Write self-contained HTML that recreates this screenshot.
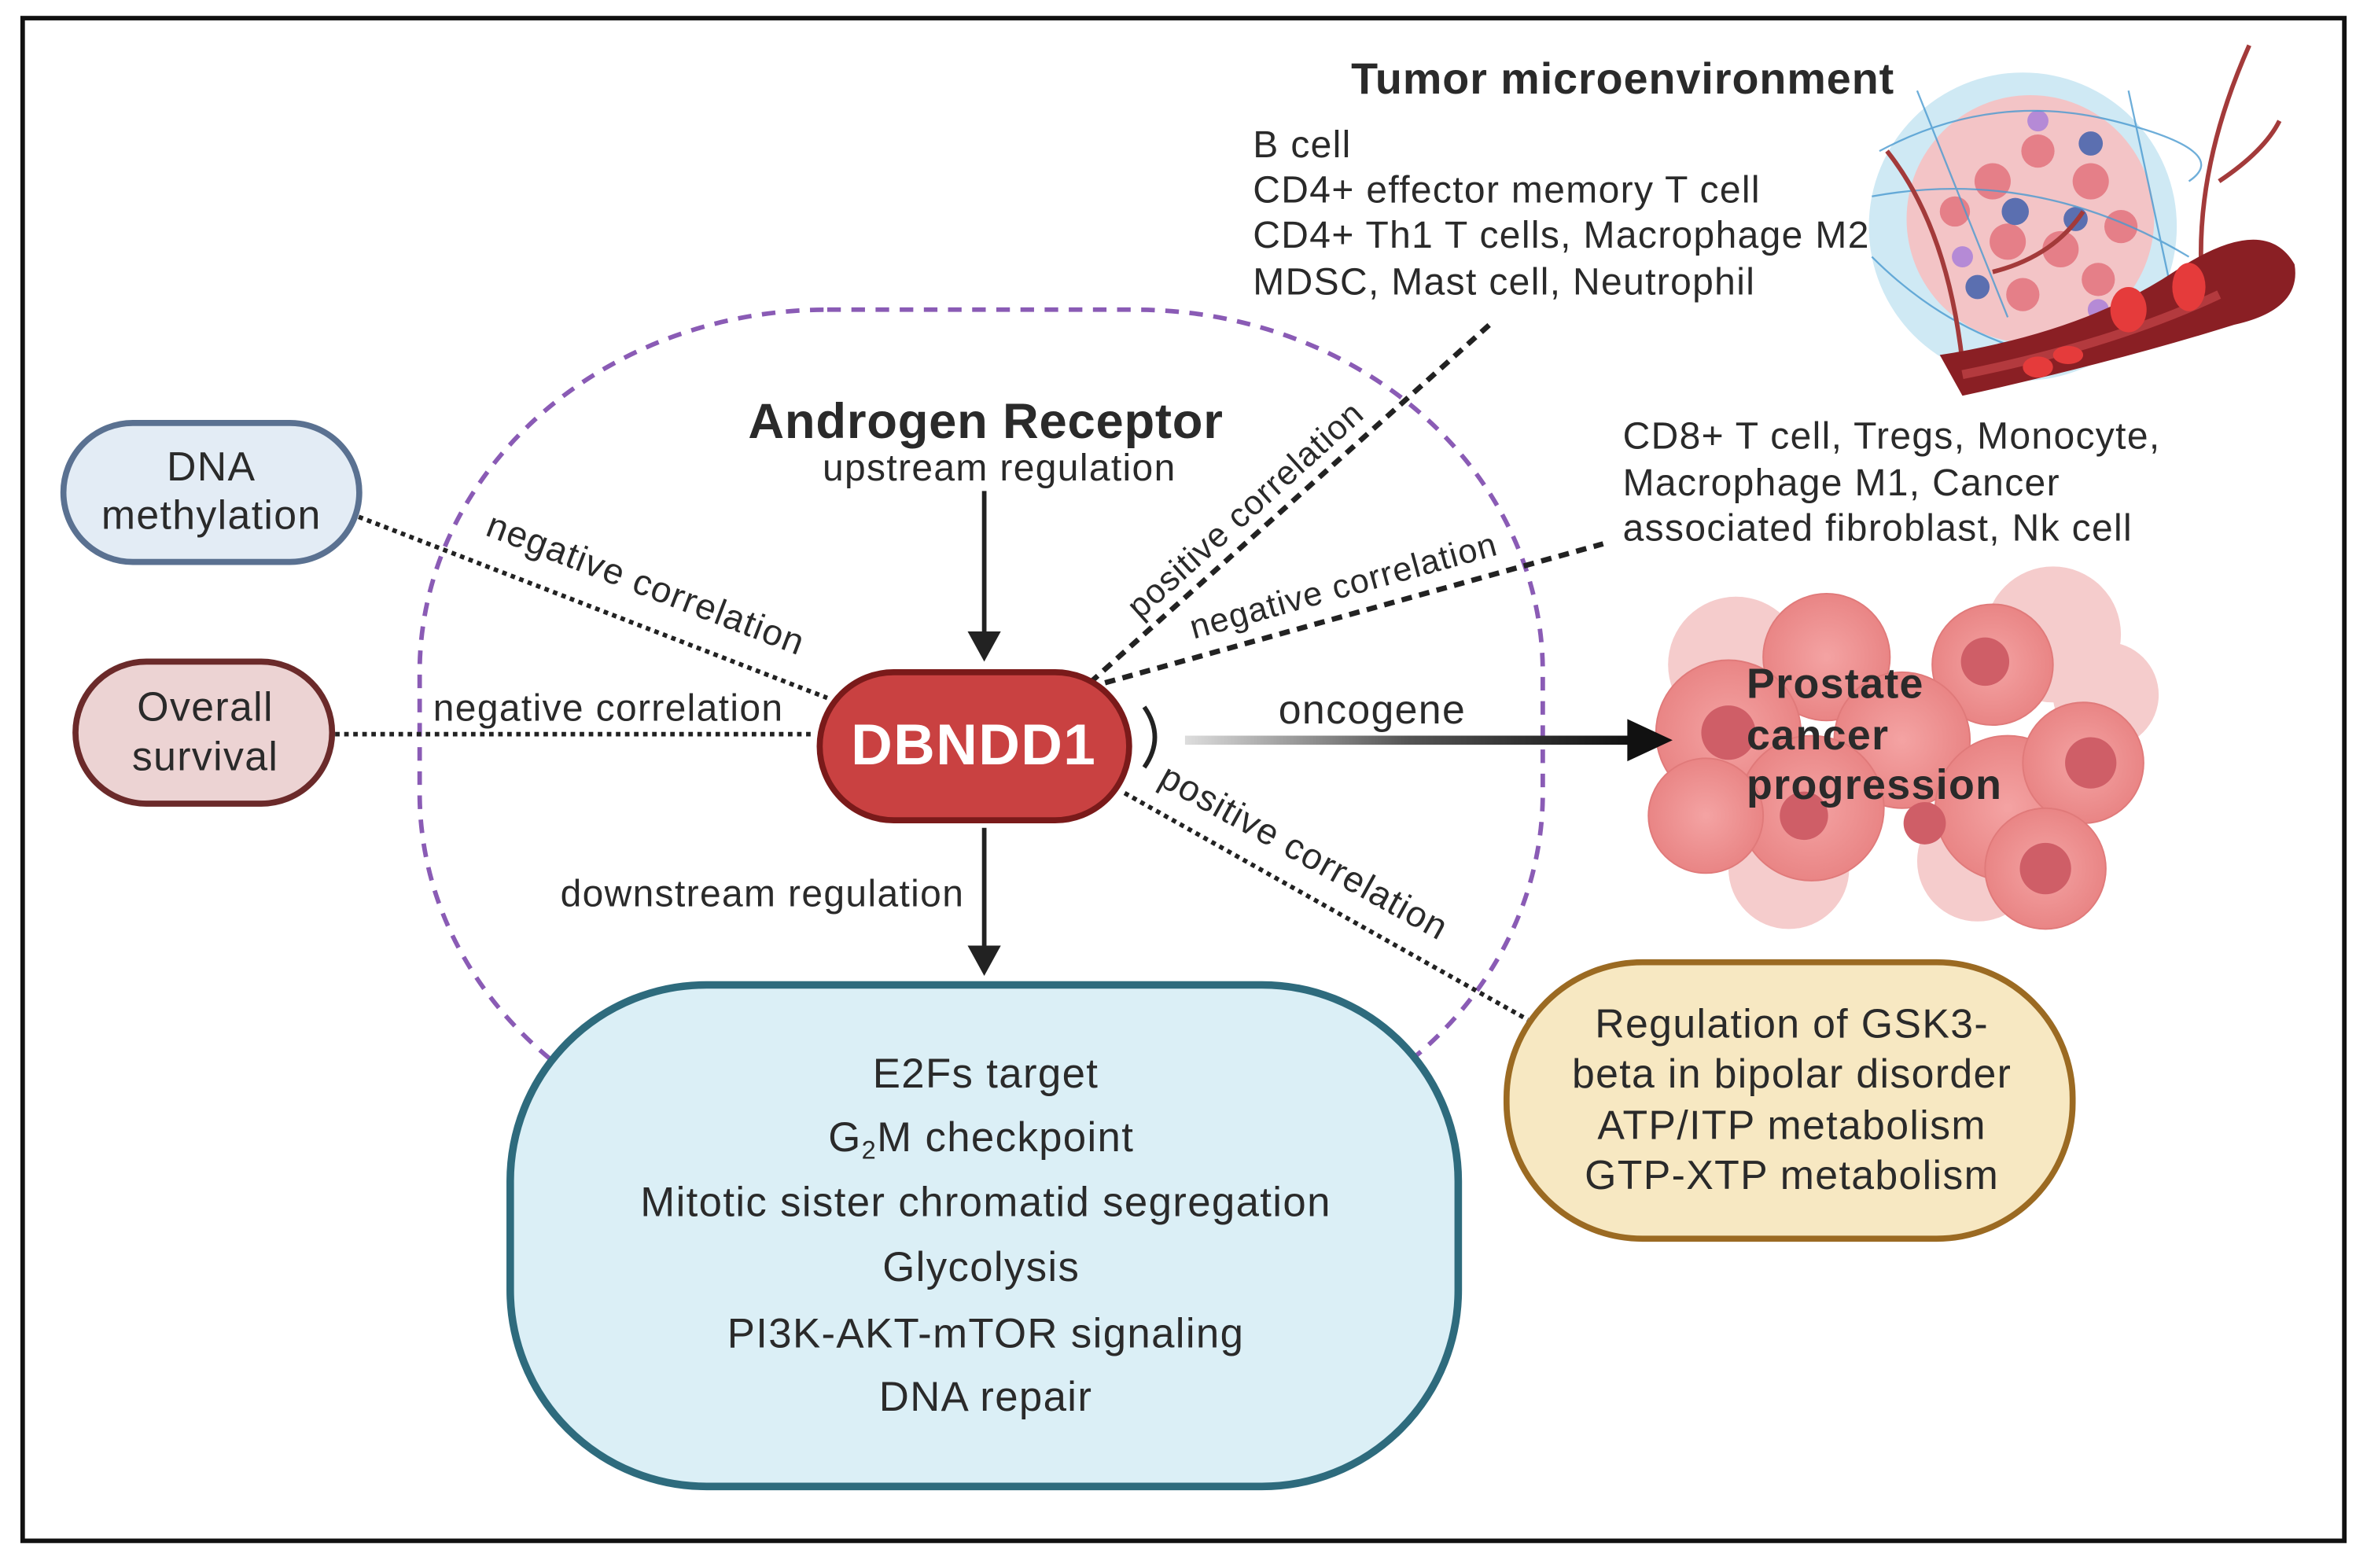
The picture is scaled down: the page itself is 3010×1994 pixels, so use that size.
<!DOCTYPE html>
<html><head><meta charset="utf-8"><style>
html,body{margin:0;padding:0;background:#fff}
svg{display:block}
text{font-family:"Liberation Sans",sans-serif;fill:#2a2a2a;letter-spacing:0.7px}
</style></head><body>
<svg width="3010" height="1994" viewBox="0 0 1568 1038" preserveAspectRatio="none" xmlns="http://www.w3.org/2000/svg">
<defs>
<linearGradient id="ag" x1="0" x2="1"><stop offset="0" stop-color="#ddd"/><stop offset="0.5" stop-color="#555"/><stop offset="1" stop-color="#111"/></linearGradient>
<radialGradient id="cg"><stop offset="0" stop-color="#f4a3a3"/><stop offset="1" stop-color="#e98585"/></radialGradient>
</defs>
<rect x="0" y="0" width="1568" height="1038" fill="#fff"/>
<rect x="15" y="12" width="1538" height="1008" fill="none" stroke="#111" stroke-width="3"/>
<rect x="278" y="205" width="744" height="560" rx="270" ry="240" fill="none" stroke="#8a5bb5" stroke-width="3" stroke-dasharray="9,7"/>

<!-- tumor microenvironment illustration -->
<circle cx="1340" cy="150" r="102" fill="#cfe9f4"/>
<circle cx="1345" cy="145" r="82" fill="#f3c4c6"/>
<g fill="#e57f88">
<circle cx="1320" cy="120" r="12"/><circle cx="1350" cy="100" r="11"/><circle cx="1385" cy="120" r="12"/><circle cx="1405" cy="150" r="11"/><circle cx="1330" cy="160" r="12"/><circle cx="1365" cy="165" r="12"/><circle cx="1390" cy="185" r="11"/><circle cx="1340" cy="195" r="11"/><circle cx="1295" cy="140" r="10"/>
</g>
<g fill="#5b6fb0"><circle cx="1335" cy="140" r="9"/><circle cx="1385" cy="95" r="8"/><circle cx="1310" cy="190" r="8"/><circle cx="1375" cy="145" r="8"/></g>
<g fill="#b58ad6"><circle cx="1350" cy="80" r="7"/><circle cx="1300" cy="170" r="7"/><circle cx="1390" cy="205" r="7"/></g>
<g stroke="#4a9ad0" stroke-width="1.2" fill="none" opacity="0.8">
<path d="M1245 100 Q1320 60 1400 80 T1450 120"/><path d="M1240 170 Q1300 230 1380 240"/><path d="M1270 60 L1330 210"/><path d="M1410 60 L1440 200"/><path d="M1240 130 Q1350 110 1450 170"/>
</g>
<g stroke="#a33a3a" stroke-width="3" fill="none">
<path d="M1300 240 Q1290 150 1250 100"/><path d="M1460 200 Q1450 120 1490 30"/><path d="M1470 120 Q1500 100 1510 80"/><path d="M1320 180 Q1360 170 1380 140"/>
</g>
<path d="M1285 235 Q1380 220 1440 180 Q1500 140 1520 175 Q1525 205 1480 215 Q1400 240 1300 262 Z" fill="#8a1f24"/>
<path d="M1300 248 Q1400 228 1470 195" stroke="#b33a3e" stroke-width="6" fill="none"/>
<g fill="#e53b3b"><ellipse cx="1410" cy="205" rx="12" ry="15"/><ellipse cx="1450" cy="190" rx="11" ry="16"/><ellipse cx="1350" cy="243" rx="10" ry="7"/><ellipse cx="1370" cy="235" rx="10" ry="6"/></g>

<!-- cancer cells -->
<g fill="#f5cccc"><circle cx="1150" cy="440" r="45"/><circle cx="1360" cy="420" r="45"/><circle cx="1395" cy="460" r="35"/><circle cx="1185" cy="575" r="40"/><circle cx="1310" cy="570" r="40"/></g>
<g fill="url(#cg)" stroke="#e07a7a" stroke-width="1">
<circle cx="1210" cy="435" r="42"/><circle cx="1320" cy="440" r="40"/><circle cx="1145" cy="485" r="48"/><circle cx="1260" cy="490" r="45"/><circle cx="1330" cy="535" r="48"/><circle cx="1380" cy="505" r="40"/><circle cx="1200" cy="535" r="48"/><circle cx="1130" cy="540" r="38"/><circle cx="1355" cy="575" r="40"/>
</g>
<g fill="#cf5e67"><circle cx="1145" cy="485" r="18"/><circle cx="1315" cy="438" r="16"/><circle cx="1385" cy="505" r="17"/><circle cx="1355" cy="575" r="17"/><circle cx="1195" cy="540" r="16"/><circle cx="1275" cy="545" r="14"/></g>

<!-- connectors -->
<g stroke="#222" stroke-width="3" stroke-dasharray="3,3" fill="none">
<line x1="232" y1="340" x2="548" y2="462"/>
<line x1="222" y1="486" x2="540" y2="486"/>
<line x1="745" y1="525" x2="1012" y2="675"/>
</g>
<g stroke="#222" stroke-width="3.5" stroke-dasharray="7,5" fill="none">
<line x1="722" y1="452" x2="990" y2="212"/>
<line x1="732" y1="452" x2="1062" y2="360"/>
</g>
<g stroke="#222" stroke-width="3" fill="none">
<line x1="652" y1="325" x2="652" y2="420"/>
<line x1="652" y1="548" x2="652" y2="628"/>
</g>
<polygon points="641,418 663,418 652,438" fill="#222"/>
<polygon points="641,626 663,626 652,646" fill="#222"/>
<rect x="785" y="487" width="295" height="6" fill="url(#ag)"/>
<polygon points="1078,476 1108,490 1078,504" fill="#111"/>
<path d="M758 468 Q772 488 758 508" stroke="#222" stroke-width="3" fill="none"/>

<!-- nodes -->
<rect x="42" y="280" width="196" height="92" rx="46" fill="#e3ecf5" stroke="#5a7191" stroke-width="4"/>
<text x="140" y="318" font-size="27" text-anchor="middle">DNA</text>
<text x="140" y="350" font-size="27" text-anchor="middle">methylation</text>
<rect x="50" y="438" width="170" height="94" rx="47" fill="#ecd3d3" stroke="#6b2a2a" stroke-width="4"/>
<text x="136" y="477" font-size="27" text-anchor="middle">Overall</text>
<text x="136" y="510" font-size="27" text-anchor="middle">survival</text>
<rect x="543" y="445" width="205" height="98" rx="49" fill="#c94141" stroke="#7a1a1a" stroke-width="4"/>
<text x="645" y="506" font-size="38" font-weight="bold" text-anchor="middle" style="fill:#fff">DBNDD1</text>
<rect x="338" y="652" width="628" height="332" rx="130" fill="#dbeff6" stroke="#2e6b7d" stroke-width="5"/>
<g font-size="27.5" text-anchor="middle">
<text x="653" y="720">E2Fs target</text>
<text x="650" y="762">G<tspan font-size="17" dy="5">2</tspan><tspan dy="-5">M checkpoint</tspan></text>
<text x="653" y="805">Mitotic sister chromatid segregation</text>
<text x="650" y="848">Glycolysis</text>
<text x="653" y="892">PI3K-AKT-mTOR signaling</text>
<text x="653" y="934">DNA repair</text>
</g>
<rect x="998" y="637" width="375" height="183" rx="90" fill="#f7e8c2" stroke="#9b6a22" stroke-width="4"/>
<g font-size="27" text-anchor="middle">
<text x="1187" y="687">Regulation of GSK3-</text>
<text x="1187" y="720">beta in bipolar disorder</text>
<text x="1187" y="754">ATP/ITP metabolism</text>
<text x="1187" y="787">GTP-XTP metabolism</text>
</g>

<!-- labels -->
<text x="653" y="290" font-size="33" font-weight="bold" text-anchor="middle" style="letter-spacing:0.4px">Androgen Receptor</text>
<text x="662" y="318" font-size="25" text-anchor="middle">upstream regulation</text>
<text x="505" y="600" font-size="25" text-anchor="middle">downstream regulation</text>
<text x="403" y="477" font-size="25" text-anchor="middle">negative correlation</text>
<text x="909" y="479" font-size="27" text-anchor="middle">oncogene</text>
<text font-size="24" text-anchor="middle" transform="translate(425,394) rotate(21)">negative correlation</text>
<text font-size="22.5" text-anchor="middle" transform="translate(830,343) rotate(-42)">positive correlation</text>
<text font-size="22.5" text-anchor="middle" transform="translate(892,395) rotate(-15.5)">negative correlation</text>
<text font-size="24" text-anchor="middle" transform="translate(860,571) rotate(29)">positive correlation</text>
<text x="1075" y="62" font-size="29" font-weight="bold" text-anchor="middle" style="letter-spacing:0.5px">Tumor microenvironment</text>
<g font-size="25">
<text x="830" y="104">B cell</text>
<text x="830" y="134">CD4+ effector memory T cell</text>
<text x="830" y="164">CD4+ Th1 T cells, Macrophage M2</text>
<text x="830" y="195">MDSC, Mast cell, Neutrophil</text>
<text x="1075" y="297">CD8+ T cell, Tregs, Monocyte,</text>
<text x="1075" y="328">Macrophage M1, Cancer</text>
<text x="1075" y="358">associated fibroblast, Nk cell</text>
</g>
<g font-size="28" font-weight="bold">
<text x="1157" y="462">Prostate</text>
<text x="1157" y="496">cancer</text>
<text x="1157" y="529">progression</text>
</g>
</svg>
</body></html>
